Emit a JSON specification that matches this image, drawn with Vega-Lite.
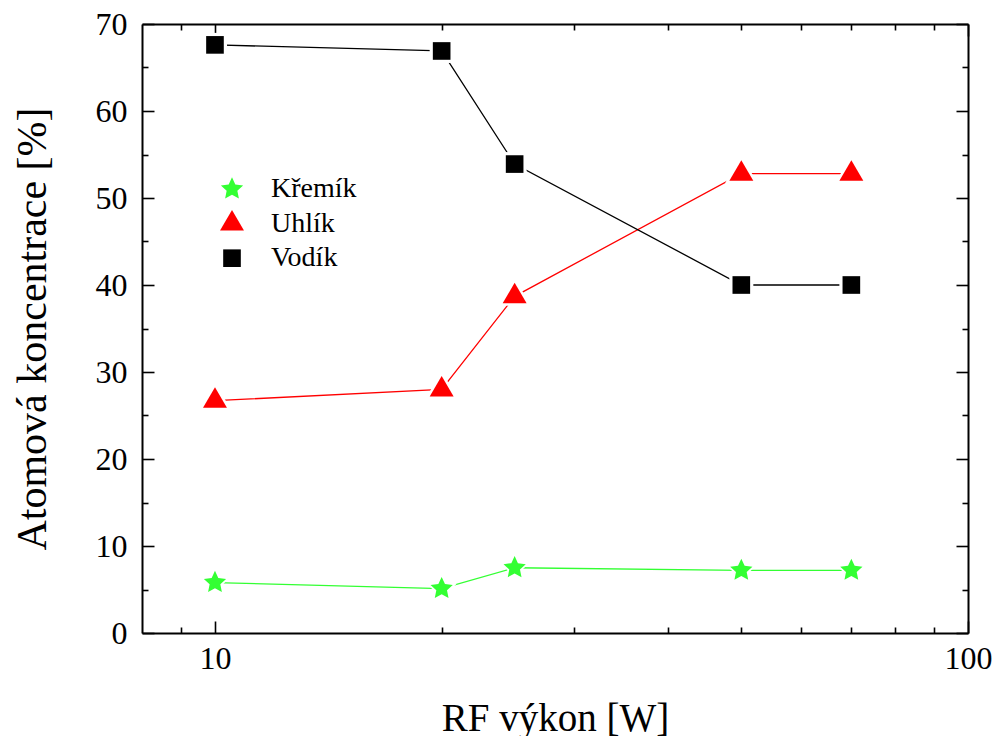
{
  "$schema": "https://vega.github.io/schema/vega-lite/v6.json",
  "width": 826,
  "height": 609,
  "autosize": {"type": "none"},
  "padding": {"left": 142, "top": 24, "right": 30, "bottom": 103},
  "background": "white",
  "config": {
    "view": {"stroke": null},
    "font": "Liberation Serif",
    "axis": {
      "grid": false,
      "domainColor": "black",
      "domainWidth": 2,
      "tickColor": "black",
      "tickWidth": 1.6,
      "labelFont": "Liberation Serif",
      "labelFontSize": 32,
      "labelColor": "black",
      "labelOverlap": false,
      "labelFlush": false,
      "labelBound": false,
      "titleFont": "Liberation Serif",
      "titleFontWeight": "normal",
      "titleColor": "black"
    },
    "legend": {
      "title": null,
      "orient": "none",
      "legendX": 76,
      "legendY": 151,
      "padding": 0,
      "symbolSize": 324,
      "symbolStrokeWidth": 0,
      "symbolOpacity": 1,
      "labelFont": "Liberation Serif",
      "labelFontSize": 28,
      "labelColor": "black",
      "labelOffset": 25,
      "rowPadding": 6.6
    }
  },
  "data": {
    "values": [
      {"power": 10, "element": "Křemík", "conc": 5.8},
      {"power": 20, "element": "Křemík", "conc": 5.1},
      {"power": 25, "element": "Křemík", "conc": 7.5},
      {"power": 50, "element": "Křemík", "conc": 7.2},
      {"power": 70, "element": "Křemík", "conc": 7.2},
      {"power": 10, "element": "Uhlík", "conc": 26.7},
      {"power": 20, "element": "Uhlík", "conc": 28.0},
      {"power": 25, "element": "Uhlík", "conc": 38.7},
      {"power": 50, "element": "Uhlík", "conc": 52.8},
      {"power": 70, "element": "Uhlík", "conc": 52.8},
      {"power": 10, "element": "Vodík", "conc": 67.6},
      {"power": 20, "element": "Vodík", "conc": 66.9},
      {"power": 25, "element": "Vodík", "conc": 53.9},
      {"power": 50, "element": "Vodík", "conc": 40.0},
      {"power": 70, "element": "Vodík", "conc": 40.0}
    ]
  },
  "layer": [
    {
      "mark": {"type": "line", "strokeWidth": 1.3},
      "encoding": {
        "x": {
          "field": "power", "type": "quantitative",
          "scale": {"type": "log", "domain": [8, 100], "nice": false},
          "axis": {
            "orient": "bottom",
            "values": [9, 10, 20, 30, 40, 50, 60, 70, 80, 90, 100],
            "tickSize": {"condition": {"test": "datum.value === 10 || datum.value === 100", "value": -12}, "value": -6},
            "labelExpr": "(datum.value === 10 || datum.value === 100) ? '' + datum.value : ''",
            "labelPadding": 22,
            "title": "RF výkon [W]",
            "titleFontSize": 39,
            "titleBaseline": "alphabetic",
            "titleY": 97
          }
        },
        "y": {
          "field": "conc", "type": "quantitative",
          "scale": {"domain": [0, 70], "nice": false},
          "axis": {
            "orient": "left",
            "values": [0, 5, 10, 15, 20, 25, 30, 35, 40, 45, 50, 55, 60, 65, 70],
            "tickSize": {"condition": {"test": "datum.value % 10 === 0", "value": -12}, "value": -6},
            "labelExpr": "datum.value % 10 === 0 ? '' + datum.value : ''",
            "labelPadding": 27,
            "title": "Atomová koncentrace [%]",
            "titleFontSize": 42,
            "titleBaseline": "alphabetic",
            "titleAngle": -90,
            "titleX": -97,
            "titleY": 304.5
          }
        },
        "color": {
          "field": "element", "type": "nominal",
          "scale": {"domain": ["Křemík", "Uhlík", "Vodík"], "range": ["#33ff33", "#ff0000", "#000000"]},
          "legend": {
            "encode": {
              "symbols": {
                "update": {
                  "opacity": {"value": 1}
                }
              }
            }
          }
        }
      }
    },
    {
      "mark": {"type": "point", "filled": true, "size": 600, "opacity": 1, "color": "white"},
      "encoding": {
        "x": {"field": "power", "type": "quantitative", "scale": {"type": "log", "domain": [8, 100], "nice": false}, "axis": null},
        "y": {"field": "conc", "type": "quantitative", "scale": {"domain": [0, 70], "nice": false}, "axis": null},
        "shape": {
          "field": "element", "type": "nominal",
          "scale": {
            "domain": ["Křemík", "Uhlík", "Vodík"],
            "range": [
              "M0,-1.3L0.367,-0.506L1.236,-0.402L0.594,0.193L0.764,1.052L0,0.625L-0.764,1.052L-0.594,0.193L-1.236,-0.402L-0.367,-0.506Z",
              "M0,-1.5L1.33,0.78L-1.33,0.78Z",
              "M-0.98,-0.98H0.98V0.98H-0.98Z"
            ]
          },
          "legend": null
        }
      }
    },
    {
      "mark": {"type": "point", "filled": true, "size": 324, "opacity": 1},
      "encoding": {
        "x": {
          "field": "power", "type": "quantitative",
          "scale": {"type": "log", "domain": [8, 100], "nice": false},
          "axis": {
            "orient": "top",
            "values": [9, 10, 20, 30, 40, 50, 60, 70, 80, 90, 100],
            "tickSize": {"condition": {"test": "datum.value === 10 || datum.value === 100", "value": -12}, "value": -6},
            "labels": false,
            "title": null
          }
        },
        "y": {
          "field": "conc", "type": "quantitative",
          "scale": {"domain": [0, 70], "nice": false},
          "axis": {
            "orient": "right",
            "values": [0, 5, 10, 15, 20, 25, 30, 35, 40, 45, 50, 55, 60, 65, 70],
            "tickSize": {"condition": {"test": "datum.value % 10 === 0", "value": -12}, "value": -6},
            "labels": false,
            "title": null
          }
        },
        "color": {"field": "element", "type": "nominal"},
        "shape": {"field": "element", "type": "nominal", "legend": null}
      }
    }
  ],
  "resolve": {"axis": {"x": "independent", "y": "independent"}}
}
